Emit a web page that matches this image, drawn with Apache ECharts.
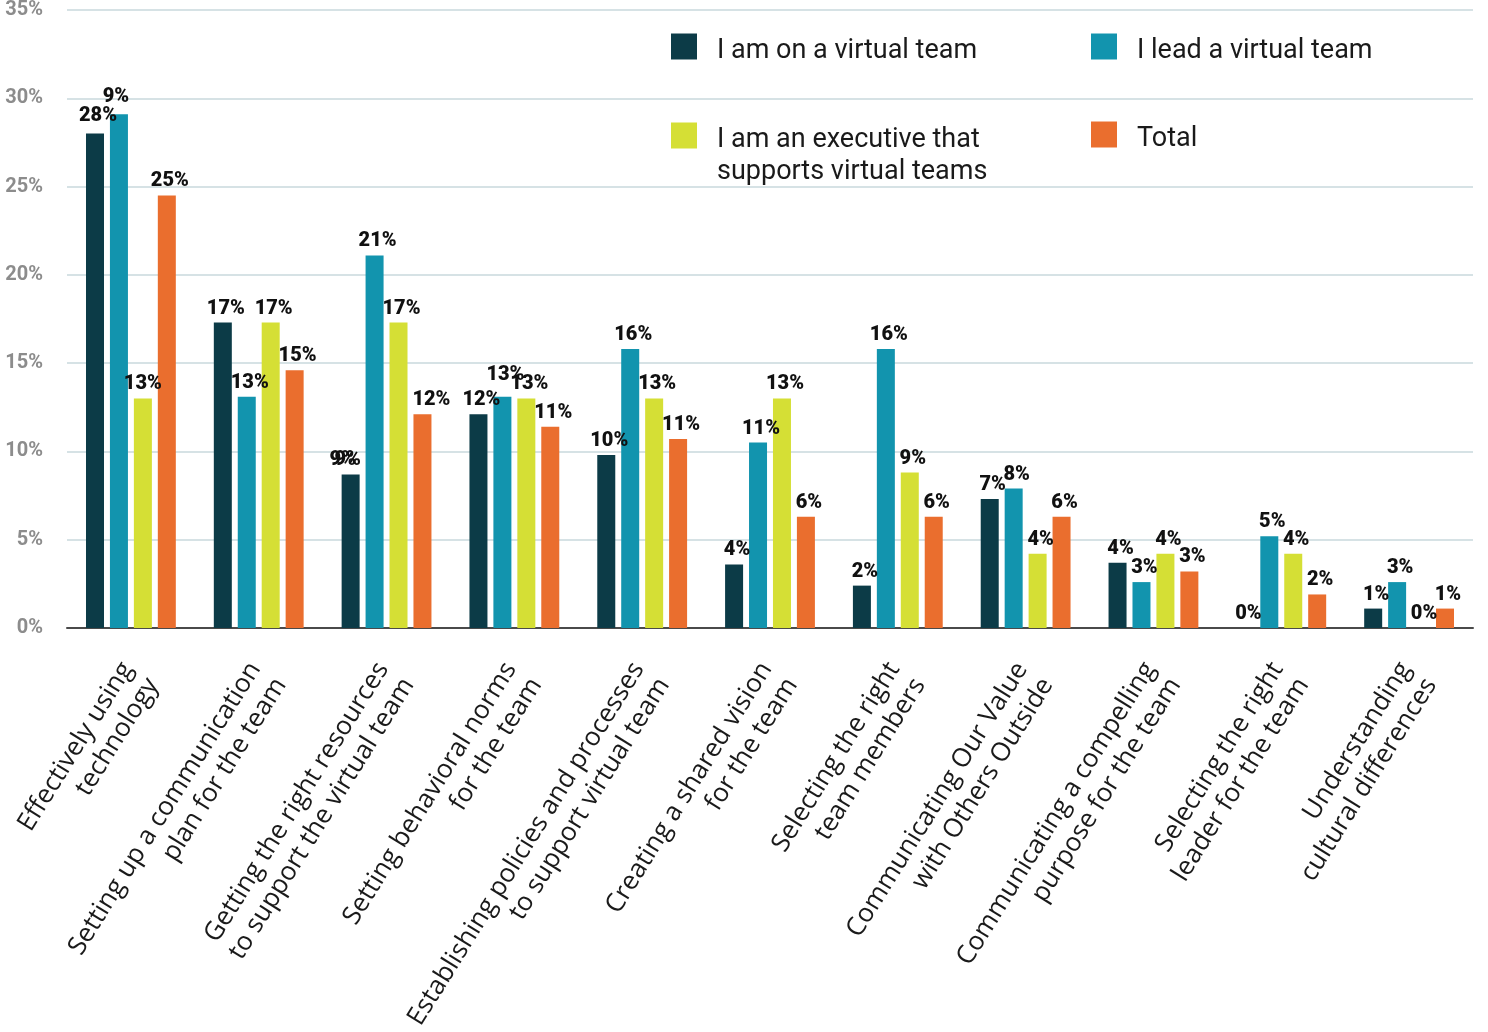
<!DOCTYPE html>
<html>
<head>
<meta charset="utf-8">
<title>Virtual team challenges</title>
<script src="https://cdn.jsdelivr.net/npm/echarts@6/dist/echarts.min.js"></script>
<style>
  html, body { margin: 0; padding: 0; background: #ffffff; }
  #chart { width: 1488px; height: 1032px; }
</style>
</head>
<body>
<div id="chart"></div>
<script>
// Topics (two-line axis labels)
const categories = [
  'Effectively using\ntechnology',
  'Setting up a communication\nplan for the team',
  'Getting the right resources\nto support the virtual team',
  'Setting behavioral norms\nfor the team',
  'Establishing policies and processes\nto support virtual team',
  'Creating a shared vision\nfor the team',
  'Selecting the right\nteam members',
  'Communicating Our Value\nwith Others Outside',
  'Communicating a compelling\npurpose for the team',
  'Selecting the right\nleader for the team',
  'Understanding\ncultural differences'
];

const seriesNames = [
  'I am on a virtual team',
  'I lead a virtual team',
  'I am an executive that supports virtual teams',
  'Total'
];

// Percent of respondents per group
const onTeam     = [28.0, 17.3, 8.7, 12.1, 9.8, 3.6, 2.4, 7.3, 3.7, 0.0, 1.1];
const leadTeam   = [29.1, 13.1, 21.1, 13.1, 15.8, 10.5, 15.8, 7.9, 2.6, 5.2, 2.6];
const executive  = [13.0, 17.3, 17.3, 13.0, 13.0, 13.0, 8.8, 4.2, 4.2, 4.2, 0.0];
const total      = [24.5, 14.6, 12.1, 11.4, 10.7, 6.3, 6.3, 6.3, 3.2, 1.9, 1.1];

// Printed value labels
const onTeamLabels    = ['28%', '17%', '9%', '12%', '10%', '4%', '2%', '7%', '4%', '0%', '1%'];
const leadTeamLabels  = ['9%', '13%', '21%', '13%', '16%', '11%', '16%', '8%', '3%', '5%', '3%'];
const executiveLabels = ['13%', '17%', '17%', '13%', '13%', '13%', '9%', '4%', '4%', '4%', '0%'];
const totalLabels     = ['25%', '15%', '12%', '11%', '11%', '6%', '6%', '6%', '3%', '2%', '1%'];

// Y axis ticks
const yMin = 0, yMax = 35, yStep = 5;

const colors = ['#0c3b47', '#1294ae', '#d5df35', '#ea6e2e'];

const chart = echarts.init(document.getElementById('chart'), null, { renderer: 'canvas' });

const valueLabel = {
  show: true,
  position: 'top',
  distance: 4,
  offset: [3, 0],
  fontFamily: 'Roboto',
  fontSize: 20,
  fontWeight: 900,
  color: '#111111'
};

function makeSeries(name, values, labels, color, tweak) {
  return {
    name: name,
    type: 'bar',
    barWidth: 18,
    barGap: '33%',
    itemStyle: { color: color },
    label: Object.assign({}, valueLabel, {
      formatter: p => labels[p.dataIndex]
    }),
    data: values.map((v, i) => (tweak && tweak[i]) ? { value: v, label: tweak[i] } : v)
  };
}

// Legend text: a thin spacer line above drops the text a little below the swatch centre
const legendText = {
  padding: [0, 0, 0, 15],
  rich: {
    s: { fontSize: 1, lineHeight: 10 },
    u: { fontSize: 1, lineHeight: 42 },
    t: { fontFamily: 'Roboto', fontSize: 27, lineHeight: 32, color: '#1a1a1a' }
  }
};

function legendBlock(name, left, top, lines, spacer) {
  const text = [('{' + spacer + '|\u00a0}')].concat(lines.map(s => '{t|' + s + '}')).join('\n');
  return {
    data: [name],
    left: left,
    top: top,
    padding: 0,
    itemWidth: 26,
    itemHeight: 26,
    icon: 'rect',
    selectedMode: false,
    formatter: () => text,
    textStyle: legendText
  };
}

const option = {
  backgroundColor: '#ffffff',
  animation: false,
  color: colors,
  grid: {
    left: 67, right: 15, top: 10, bottom: 404,
    containLabel: false,
    outerBoundsMode: 'none'
  },
  legend: [
    legendBlock(seriesNames[0], 671, 30, ['I am on a virtual team'], 's'),
    legendBlock(seriesNames[1], 1091, 30, ['I lead a virtual team'], 's'),
    legendBlock(seriesNames[2], 671, 103, ['I am an executive that', 'supports virtual teams'], 'u'),
    legendBlock(seriesNames[3], 1091, 118, ['Total'], 's')
  ],
  xAxis: {
    type: 'category',
    data: categories,
    axisLine: { show: true, lineStyle: { color: '#4a4a4a', width: 2 } },
    axisTick: { show: false },
    axisLabel: {
      interval: 0,
      rotate: 58,
      margin: 39,
      // blank lead line nudges the rotated block down and to the right
      formatter: v => '{s|\u00a0}\n' + v.split('\n').map(s => '{t|' + s + '}').join('\n'),
      rich: {
        s: { fontSize: 1, lineHeight: 21 },
        t: { align: 'right', fontFamily: 'Open Sans', fontSize: 26, lineHeight: 30, color: '#1a1a1a' }
      }
    }
  },
  yAxis: {
    type: 'value',
    min: yMin,
    max: yMax,
    interval: yStep,
    axisLine: { show: false },
    axisTick: { show: false },
    splitLine: { lineStyle: { color: '#d6e2e5', width: 2 } },
    axisLabel: {
      margin: 24,
      formatter: '{value}%',
      fontFamily: 'Roboto',
      fontSize: 20,
      fontWeight: 'bold',
      color: '#8c8c8c'
    }
  },
  series: [
    makeSeries(seriesNames[0], onTeam, onTeamLabels, colors[0], {
      0: { offset: [3, -4] },
      2: { offset: [-8, 0], textShadowColor: '#111111', textShadowOffsetX: 5, textShadowOffsetY: 0, textShadowBlur: 0.5 }
    }),
    makeSeries(seriesNames[1], leadTeam, leadTeamLabels, colors[1], {
      0: { offset: [-3, -3] },
      3: { offset: [3, -8] }
    }),
    makeSeries(seriesNames[2], executive, executiveLabels, colors[2], {
      0: { offset: [0, 0] }
    }),
    makeSeries(seriesNames[3], total, totalLabels, colors[3], {
      2: { offset: [9, 0] }
    })
  ]
};

chart.setOption(option);
</script>
</body>
</html>
